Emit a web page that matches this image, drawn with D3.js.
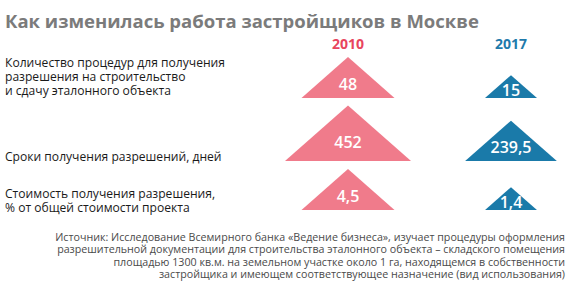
<!DOCTYPE html>
<html>
<head>
<meta charset="utf-8">
<script src="https://cdn.jsdelivr.net/npm/d3@7"></script>
<style>
  body { margin: 0; background: #fff; }
  svg { display: block; font-family: "Open Sans", sans-serif; }
</style>
</head>
<body>
<div id="chart"></div>
<script>
// data
const years = ["2010", "2017"];
const rowLabels = [
  ["Количество процедур для получения", "разрешения на строительство", "и сдачу эталонного объекта"],
  ["Сроки получения разрешений, дней"],
  ["Стоимость получения разрешения,", "% от общей стоимости проекта"]
];
const values2010 = [48, 452, 4.5];
const values2017 = [15, 239.5, 1.4];
const valueText2010 = ["48", "452", "4,5"];
const valueText2017 = ["15", "239,5", "1,4"];
const sourceLines = [
  "Источник: Исследование Всемирного банка «Ведение бизнеса», изучает процедуры оформления",
  "разрешительной документации для строительства эталонного объекта – складского помещения",
  "площадью 1300 кв.м. на земельном участке около 1 га, находящемся в собственности",
  "застройщика и имеющем соответствующее назначение (вид использования)"
];

(function triangles() {
  const width = 570, height = 297;
  const colors = { "2010": "#f07b8b", "2017": "#1a7aa9" };
  const yearColors = { "2010": "#e8455d", "2017": "#1f7aab" };

  // layout
  const rowBase = [98, 161, 210];       // baseline of triangles per row
  const rowLabelTop = [63, 157, 194];
  const maxWidth = [93, 126, 93];       // width of 2010 triangle per row
  const aspect = 0.44;

  const svg = d3.select("#chart")
    .append("svg")
    .attr("width", width)
    .attr("height", height)
    .attr("viewBox", [0, 0, width, height]);

  svg.append("text")
    .attr("x", 5)
    .attr("y", 28)
    .attr("fill", "#7b7b7b")
    .attr("font-size", 18.5)
    .attr("font-weight", 700)
    .text("Как изменилась работа застройщиков в Москве");

  let x = d3.scalePoint()
    .domain(years)
    .range([348, 511]);

  svg.selectAll(".year")
    .data(years)
    .join("text")
    .attr("class", "year")
    .attr("x", d => x(d))
    .attr("y", 49)
    .attr("text-anchor", "middle")
    .attr("fill", d => yearColors[d])
    .attr("font-size", 14)
    .attr("font-weight", 700)
    .text(d => d);

  // row labels
  rowLabels.forEach((lines, i) => {
    svg.append("text")
      .attr("x", 5)
      .attr("y", rowLabelTop[i])
      .attr("font-size", 12.1)
      .attr("fill", "#1a1a1a")
      .selectAll("tspan")
      .data(lines)
      .join("tspan")
      .attr("x", 5)
      .attr("dy", (d, j) => j === 0 ? "0.35em" : 13.7)
      .text(d => d);
  });

  const marks = [];
  values2010.forEach((v, i) => {
    const size = d3.scaleSqrt().domain([0, v]).range([0, maxWidth[i]]);
    marks.push({ year: "2010", row: i, w: size(v), label: valueText2010[i] });
    marks.push({ year: "2017", row: i, w: size(values2017[i]), label: valueText2017[i] });
  });

  const g = svg.append("g");

  g.selectAll(".tri")
    .data(marks)
    .join("path")
    .attr("class", "tri")
    .attr("fill", d => colors[d.year])
    .attr("d", d => {
      const cx = x(d.year), b = rowBase[d.row], h = d.w * aspect;
      return `M${cx - d.w / 2},${b}L${cx},${b - h}L${cx + d.w / 2},${b}Z`;
    });

  g.selectAll(".val")
    .data(marks)
    .join("text")
    .attr("class", "val")
    .attr("x", d => x(d.year))
    .attr("y", d => rowBase[d.row] - d.w * aspect / 3)
    .attr("dy", "0.36em")
    .attr("text-anchor", "middle")
    .attr("fill", "#fff")
    .attr("font-size", 16)
    .attr("font-weight", 600)
    .text(d => d.label);

  svg.append("text")
    .attr("font-size", 10.7)
    .attr("fill", "#4a4a4a")
    .attr("text-anchor", "end")
    .selectAll("tspan")
    .data(sourceLines)
    .join("tspan")
    .attr("x", 565)
    .attr("y", (d, i) => 241 + i * 12.3)
    .text(d => d);
})();
</script>
</body>
</html>
